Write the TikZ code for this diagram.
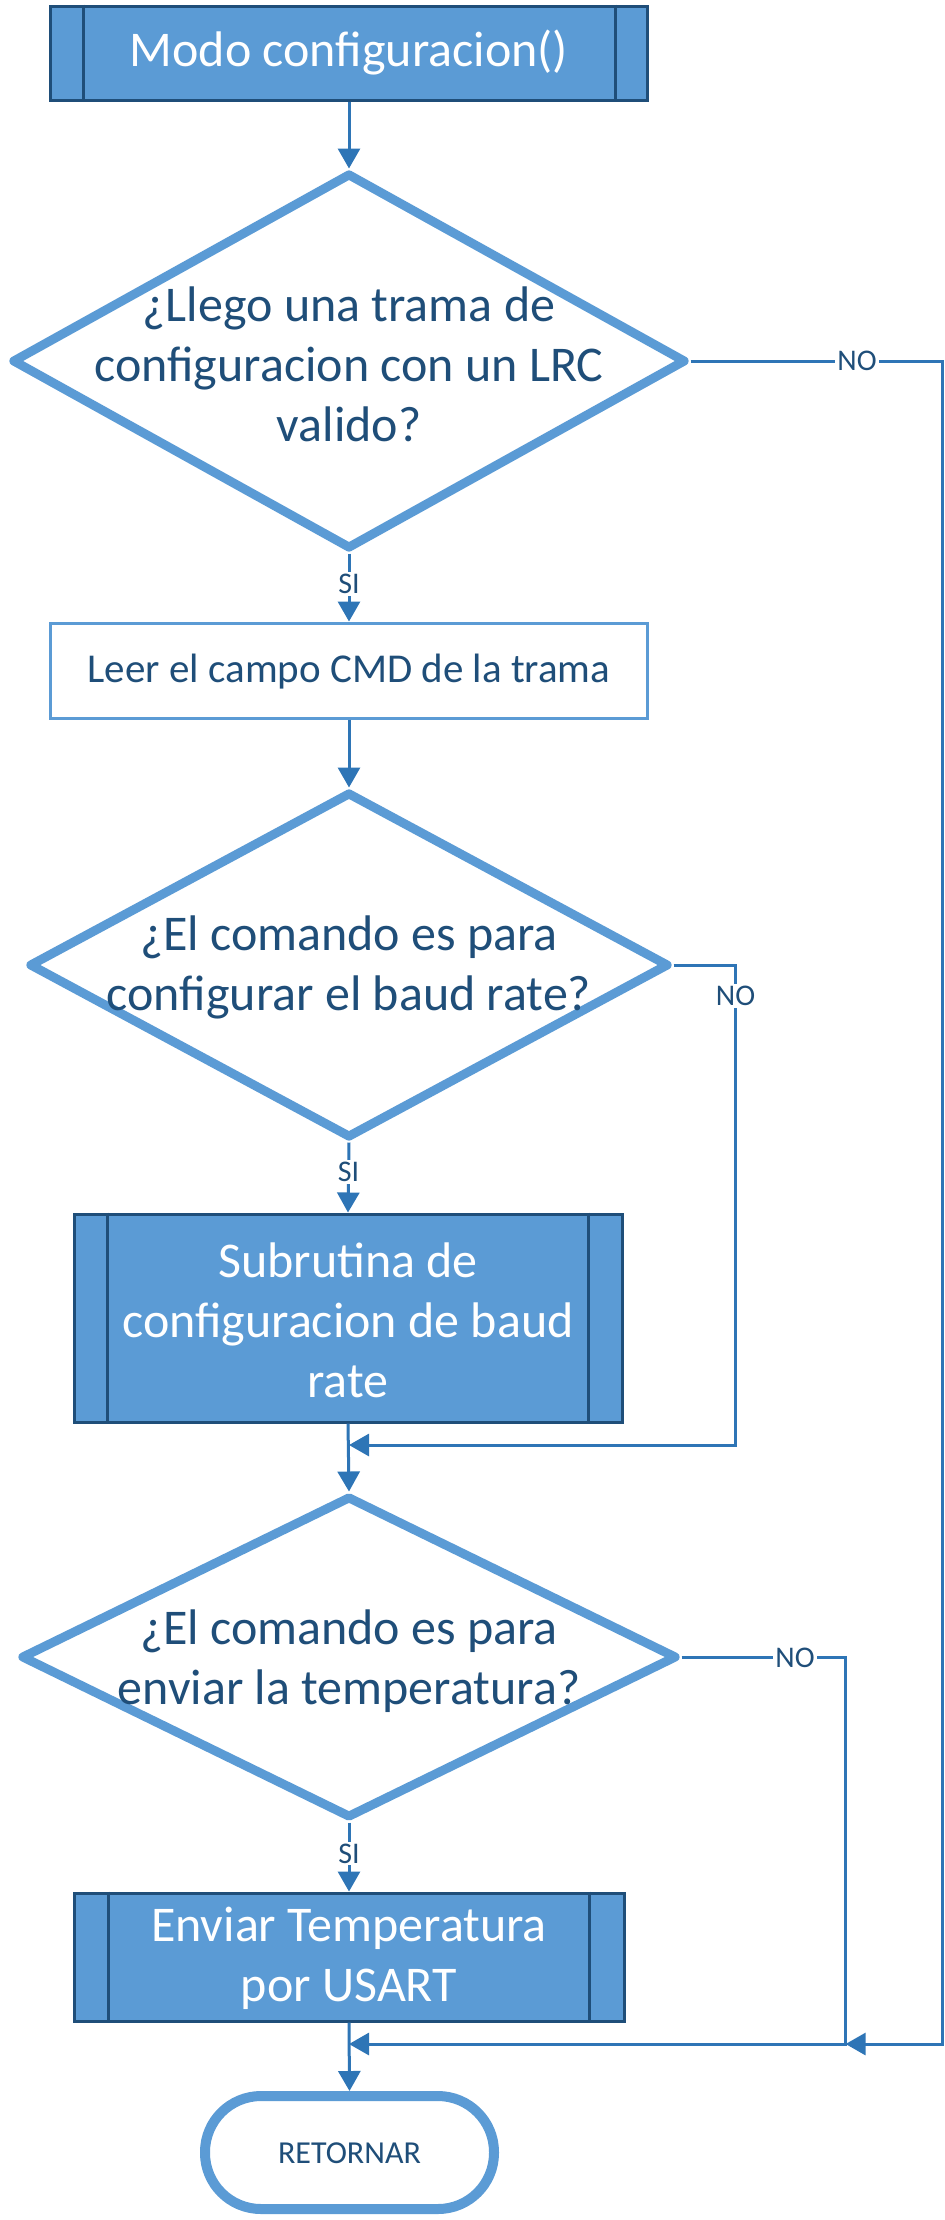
\documentclass[tikz,border=0pt]{standalone}
\usepackage{fontspec}
\setmainfont{Carlito}
\usetikzlibrary{arrows.meta,shapes.geometric,calc}
\definecolor{fillblue}{HTML}{5B9BD5}
\definecolor{darkbd}{HTML}{1F4E79}
\definecolor{connc}{HTML}{2E75B6}
\definecolor{txtc}{HTML}{1F4E79}
\tikzset{
  subr/.style={rectangle, draw=darkbd, line width=3pt, fill=fillblue, inner sep=0pt},
  procbox/.style={rectangle, draw=fillblue, line width=3pt, fill=white, inner sep=0pt},
  decis/.style={diamond, draw=fillblue, line width=9pt, line join=round, fill=white, inner sep=0pt},
  term/.style={rectangle, rounded corners=56pt, draw=fillblue, line width=10pt, fill=white, inner sep=0pt},
  bigtxt/.style={font=\fontsize{50}{60}\selectfont, align=center, inner sep=0pt},
  wtxt/.style={bigtxt, text=white},
  dtxt/.style={bigtxt, text=txtc},
  lbl/.style={font=\fontsize{30}{34}\selectfont, text=txtc, fill=white, inner sep=2pt},
  conn/.style={draw=connc, line width=3pt},
  arr/.style={conn, -{Triangle[width=22pt,length=20pt]}},
}
\begin{document}
\begin{tikzpicture}[x=1pt,y=-1pt]
\useasboundingbox[fill=white] (0,0) rectangle (945,2220);

% top subroutine box
\node[subr, minimum width=597pt, minimum height=94pt] (top) at (349,53) {};
\draw[darkbd, line width=3pt] ($(top.north west)+(34,0)$) -- ($(top.south west)+(34,0)$);
\draw[darkbd, line width=3pt] ($(top.north east)+(-34,0)$) -- ($(top.south east)+(-34,0)$);
\node[wtxt] (toptxt) at (349,53) {Modo configuracion()};

% decision 1
\node[decis, minimum width=674pt, minimum height=376pt] (d1) at (349,361) {};
\node[dtxt] (d1txt) at (349,364) {¿Llego una trama de\\configuracion con un LRC\\valido?};

% process
\node[procbox, minimum width=597pt, minimum height=95pt] (leer) at (349,670.5) {};
\node[dtxt, font=\fontsize{41}{48}\selectfont] (leertxt) at (349,672) {Leer el campo CMD de la trama};

% decision 2
\node[decis, minimum width=640pt, minimum height=346pt] (d2) at (349,965) {};
\node[dtxt] (d2txt) at (349,967) {¿El comando es para\\configurar el baud rate?};

% subroutine baud
\node[subr, minimum width=548pt, minimum height=208pt] (baud) at (348,1318) {};
\draw[darkbd, line width=3pt] ($(baud.north west)+(35,0)$) -- ($(baud.south west)+(35,0)$);
\draw[darkbd, line width=3pt] ($(baud.north east)+(-35,0)$) -- ($(baud.south east)+(-35,0)$);
\node[wtxt] (baudtxt) at (348,1320) {Subrutina de\\configuracion de baud\\rate};

% decision 3
\node[decis, minimum width=656pt, minimum height=322pt] (d3) at (349,1657) {};
\node[dtxt] (d3txt) at (349,1661) {¿El comando es para\\enviar la temperatura?};

% subroutine send
\node[subr, minimum width=550pt, minimum height=128pt] (env) at (349,1957) {};
\draw[darkbd, line width=3pt] ($(env.north west)+(36,0)$) -- ($(env.south west)+(36,0)$);
\draw[darkbd, line width=3pt] ($(env.north east)+(-36,0)$) -- ($(env.south east)+(-36,0)$);
\node[wtxt] (envtxt) at (349,1958) {Enviar Temperatura\\por USART};

% terminal
\node[term, minimum width=289pt, minimum height=113pt] (ret) at (349.5,2152.5) {};
\node[dtxt, font=\fontsize{32}{38}\selectfont] (rettxt) at (349.5,2153) {RETORNAR};

% coordinates
\coordinate (m1) at (349,1445);
\coordinate (j2) at (735.5,1445);
\coordinate (m2) at (349,2044);
\coordinate (j3) at (845.6,2044);
\coordinate (j1) at (942.5,2044);

% connectors
\draw[arr] (top.south) -- (d1.north);
\draw[arr] (d1.south) -- node[lbl, pos=0.45] (si1) {SI} (leer.north);
\draw[arr] (leer.south) -- (d2.north);
\draw[arr] (d2.south) -- node[lbl, pos=0.42] (si2) {SI} (baud.north);
\draw[arr] (baud.south) -- (d3.north);
\draw[arr] (d3.south) -- node[lbl, pos=0.45] (si3) {SI} (env.north);
\draw[arr] (env.south) -- (ret.north);

\draw[arr] (d2.east) -| (j2) -- (m1);
\node[lbl] (no2) at (735.5,996) {NO};

\draw[arr] (d3.east) -| (j3) -- (m2);
\node[lbl] (no3) at (795,1658) {NO};

\draw[arr] (d1.east) -| (j1) -- (j3);
\node[lbl] (no1) at (857,361) {NO};
\end{tikzpicture}
\end{document}
